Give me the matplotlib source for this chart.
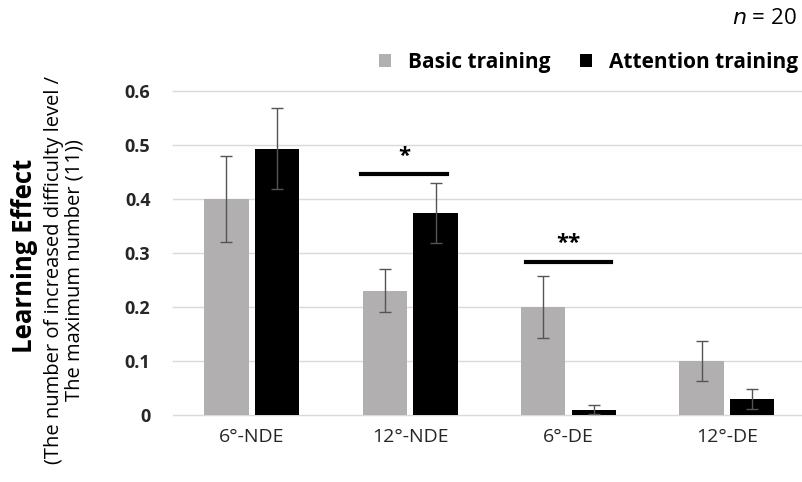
#!/usr/bin/env python3
import matplotlib
matplotlib.use("Agg")
import matplotlib.pyplot as plt
import matplotlib.transforms as mtransforms
import numpy as np

categories = ["6°-NDE", "12°-NDE", "6°-DE", "12°-DE"]
basic_mean = [0.40, 0.23, 0.20, 0.10]
basic_err = [0.08, 0.04, 0.058, 0.037]
attention_mean = [0.493, 0.374, 0.01, 0.03]
attention_err = [0.075, 0.055, 0.008, 0.018]
yticks = [0, 0.1, 0.2, 0.3, 0.4, 0.5, 0.6]
ytick_labels = ["0", "0.1", "0.2", "0.3", "0.4", "0.5", "0.6"]

# significance brackets: (x start, x end, line y, star y, label)
sig_marks = [(0.69, 1.23, 0.446, 0.478, "*"), (1.73, 2.27, 0.284, 0.318, "**")]

GRAY = "#b1afb0"
FONT = ["Open Sans", "DejaVu Sans"]


def main():
    plt.rcParams["font.family"] = FONT
    fig = plt.figure(figsize=(8.03, 4.82), dpi=100)
    ax = fig.add_axes([0.215, 0.139, 0.785, 0.672])

    x = np.arange(len(categories))
    w = 0.28
    ekw = dict(ecolor="#555555", elinewidth=1.0, capsize=4, capthick=1.0)
    ax.bar(x - 0.16, basic_mean, w, color=GRAY, yerr=basic_err,
           error_kw=ekw, label="Basic training", zorder=3)
    ax.bar(x + 0.16, attention_mean, w, color="black", yerr=attention_err,
           error_kw=ekw, label="Attention training", zorder=3)

    for x0, x1, ly, sy, lab in sig_marks:
        ax.plot([x0, x1], [ly, ly], color="black", lw=3, zorder=4)
        ax.text((x0 + x1) / 2, sy, lab, ha="center", va="center",
                fontsize=16, fontweight="bold", zorder=4)

    ax.set_xlim(-0.5, 3.48)
    ax.set_ylim(0, 0.6)
    ax.set_yticks(yticks)
    ax.set_yticklabels(ytick_labels, fontsize=13, fontweight="bold", color="#262626")
    ax.set_xticks(x)
    ax.set_xticklabels(categories, fontsize=14, color="#262626")
    offset = mtransforms.ScaledTranslation(-12 / 100, 0, fig.dpi_scale_trans)
    for lbl in ax.get_xticklabels():
        lbl.set_transform(lbl.get_transform() + offset)
    ax.tick_params(axis="y", length=0, pad=16)
    ax.tick_params(axis="x", length=0, pad=9)
    ax.yaxis.grid(True, color="#d9d9d9", lw=1.0, zorder=0)
    for gl in ax.get_ygridlines():
        gl.set_clip_on(False)
    for s in ax.spines.values():
        s.set_visible(False)

    fig.text(0.031, 0.47, "Learning Effect", rotation=90, ha="center",
             va="center", fontsize=18.5, fontweight="bold")
    fig.text(0.08, 0.44, "(The number of increased difficulty level /\n"
             "The maximum number (11))", rotation=90, ha="center",
             va="center", fontsize=14.5, linespacing=1.05)

    fig.text(0.992, 0.962, "$\\it{n}$ = 20", ha="right", va="center", fontsize=16)
    ax.legend(loc="lower right", bbox_to_anchor=(1.005, 1.03), ncol=2,
              frameon=False, prop=dict(family=FONT, weight="bold", size=15),
              handlelength=0.6, handleheight=0.6, handletextpad=0.8,
              columnspacing=1.4, borderaxespad=0)

    fig.savefig("out.png", dpi=100)


if __name__ == "__main__":
    main()
